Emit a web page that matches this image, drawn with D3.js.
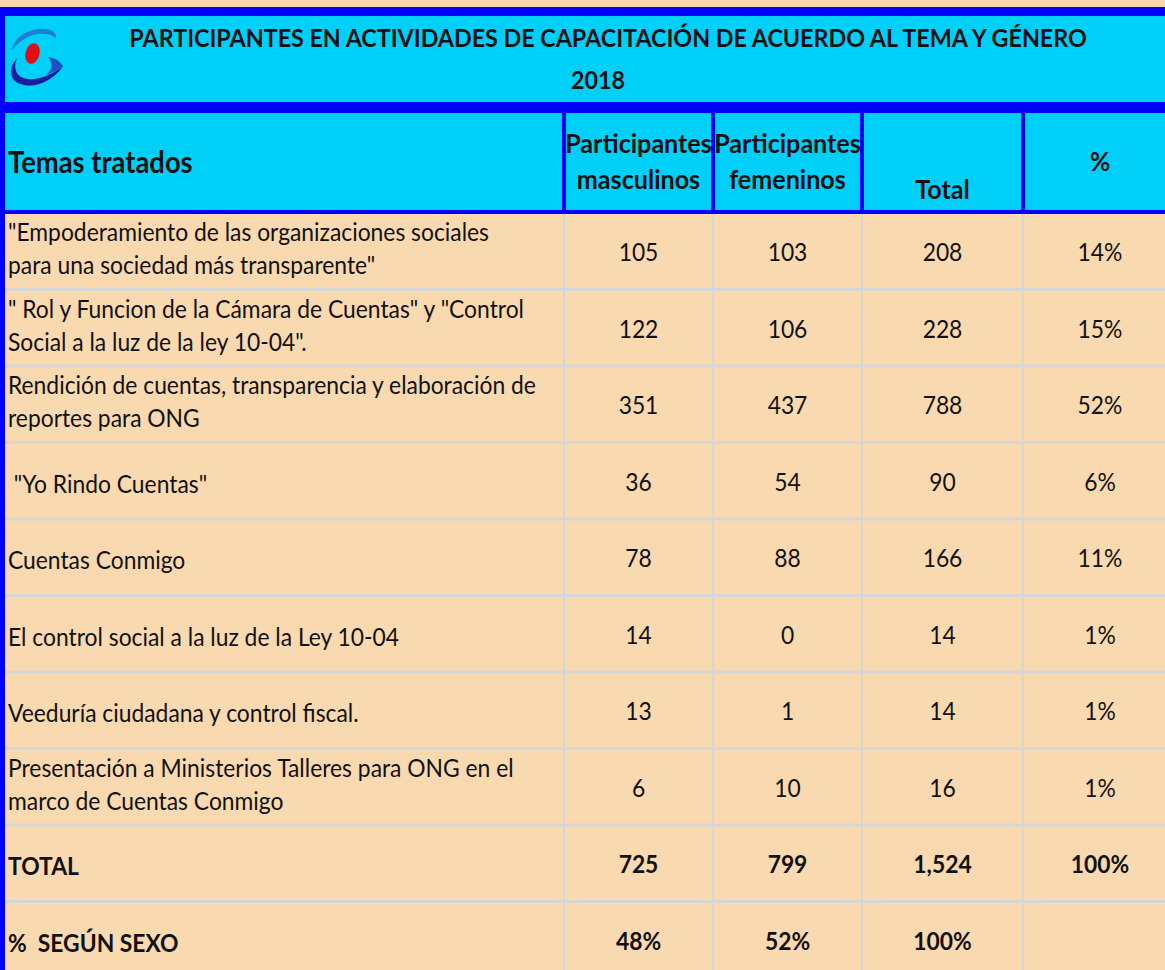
<!DOCTYPE html>
<html>
<head>
<meta charset="utf-8">
<script src="https://cdn.jsdelivr.net/npm/d3@7"></script>
<style>
    body { margin: 0; background: #F8D9B0; }
    svg { display: block; }
    text { font-family: Lato, "Open Sans", sans-serif; fill: #111; white-space: pre; }
</style>
</head>
<body>
<script>
// Table contents
var temas = [
    ['"Empoderamiento de las organizaciones sociales', 'para una sociedad más transparente"'],
    ['" Rol y Funcion de la Cámara de Cuentas" y "Control', 'Social a la luz de la ley 10-04".'],
    ['Rendición de cuentas, transparencia y elaboración de', 'reportes para ONG'],
    [' "Yo Rindo Cuentas"'],
    ['Cuentas Conmigo'],
    ['El control social a la luz de la Ley 10-04'],
    ['Veeduría ciudadana y control fiscal.'],
    ['Presentación a Ministerios Talleres para ONG en el', 'marco de Cuentas Conmigo']
];
var masculinos = [105, 122, 351, 36, 78, 14, 13, 6];
var femeninos = [103, 106, 437, 54, 88, 0, 1, 10];
var totales = [208, 228, 788, 90, 166, 14, 14, 16];
var porcentajes = ["14%", "15%", "52%", "6%", "11%", "1%", "1%", "1%"];
var filaTotal = ["TOTAL", "725", "799", "1,524", "100%"];
var filaSexo = ["%  SEGÚN SEXO", "48%", "52%", "100%", ""];
var encabezados = [["Temas tratados"], ["Participantes", "masculinos"], ["Participantes", "femeninos"], ["Total"], ["%"]];
var titulo = ["PARTICIPANTES EN ACTIVIDADES DE CAPACITACIÓN DE ACUERDO AL TEMA Y GÉNERO", "2018"];

function init() {
    var w = 1165, h = 970;
    var peach = "#F8D9B0", cyan = "#00D0F8", blue = "#0000FF", grid = "#D6D6D6";
    var colEdges = [5, 564, 713, 862, 1023, 1177];
    var bodyTop = 213, rowH = 76.5;

    var svg = d3.select("body").append("svg")
        .attr("width", w)
        .attr("height", h);

    svg.append("rect").attr("width", w).attr("height", h).attr("fill", peach);

    // rows: 8 topics + total + % by sex
    var rows = temas.map(function (t, i) {
        return [t, masculinos[i], femeninos[i], totales[i], porcentajes[i], false];
    });
    rows.push([[filaTotal[0]]].concat(filaTotal.slice(1), [true]));
    rows.push([[filaSexo[0]]].concat(filaSexo.slice(1), [true]));

    var yScale = d3.scaleBand()
        .domain(d3.range(rows.length))
        .range([bodyTop, bodyTop + rowH * rows.length]);

    var xScale = d3.scaleOrdinal()
        .domain(d3.range(5))
        .range(colEdges.slice(0, 5));
    function colW(j) { return colEdges[j + 1] - colEdges[j]; }
    function colMid(j) { return xScale(j) + colW(j) / 2; }

    // condense factor so the widest label fits like in the sheet (Calibri is narrow)
    var probe = svg.append("text").attr("font-size", 25);
    var widest = 0;
    temas.forEach(function (t) {
        t.forEach(function (s) {
            probe.text(s);
            widest = Math.max(widest, probe.node().getComputedTextLength());
        });
    });
    probe.remove();
    var sx = Math.min(1, 528 / widest);

    function put(g, str, x, y, size, bold, anchor) {
        g.append("text")
            .attr("transform", "translate(" + x + "," + y + ") scale(" + sx + ",1)")
            .attr("font-size", size)
            .attr("font-weight", bold ? "bold" : "normal")
            .attr("text-anchor", anchor || "start")
            .text(str);
    }

    // title block
    svg.append("rect").attr("x", 0).attr("y", 7).attr("width", w).attr("height", 107).attr("fill", blue);
    svg.append("rect").attr("x", 5).attr("y", 16).attr("width", w).attr("height", 86).attr("fill", cyan);

    // header block
    svg.append("rect").attr("x", 0).attr("y", 113).attr("width", w).attr("height", 101).attr("fill", blue);
    svg.append("rect").attr("x", 5).attr("y", 113).attr("width", w).attr("height", 97).attr("fill", cyan);

    // left border
    svg.append("rect").attr("x", 0).attr("y", 7).attr("width", 5).attr("height", h).attr("fill", blue);

    // logo
    var logo = svg.append("g");
    logo.append("path")
        .attr("d", "M12,50 C14,36 30,28 44,29 C52,29 57,33 56,38 C50,33 38,32 28,37 C20,41 15,46 12,50 Z")
        .attr("fill", "#1F7DD3");
    logo.append("path")
        .attr("d", "M17,58 C8,68 8,82 24,85 C38,88 56,78 63,66 C52,75 38,80 28,79 C16,78 13,68 17,58 Z")
        .attr("fill", "#1C1CA0");
    logo.append("path")
        .attr("d", "M48,57 C55,58 60,61 63,66 C58,70 52,73 46,75 C52,70 54,63 48,57 Z")
        .attr("fill", "#2050C0");
    logo.append("ellipse")
        .attr("cx", 32.5).attr("cy", 53.5).attr("rx", 7).attr("ry", 10.5)
        .attr("transform", "rotate(15,32.5,53.5)")
        .attr("fill", "#E0101A");

    put(svg, titulo[0], 608, 47, 25.5, true, "middle");
    put(svg, titulo[1], 598, 89, 25.5, true, "middle");

    // header separators
    svg.selectAll(".hsep")
        .data(colEdges.slice(1, 5))
        .enter()
        .append("rect")
        .attr("x", function (d) { return d - 2; })
        .attr("y", 113)
        .attr("width", 4)
        .attr("height", 100)
        .attr("fill", blue);

    // header texts
    var head = svg.append("g");
    put(head, encabezados[0][0], 8, 173, 30, true, "start");
    put(head, encabezados[1][0], colMid(1), 153, 27.5, true, "middle");
    put(head, encabezados[1][1], colMid(1), 189, 27.5, true, "middle");
    put(head, encabezados[2][0], colMid(2), 153, 27.5, true, "middle");
    put(head, encabezados[2][1], colMid(2), 189, 27.5, true, "middle");
    put(head, encabezados[3][0], colMid(3), 199, 27.5, true, "middle");
    put(head, encabezados[4][0], colMid(4), 171, 27.5, true, "middle");

    // body grid
    svg.selectAll(".hline")
        .data(d3.range(1, rows.length))
        .enter()
        .append("rect")
        .attr("x", 5)
        .attr("y", function (d) { return yScale(d) - 1.5; })
        .attr("width", w)
        .attr("height", 3)
        .attr("fill", grid);

    svg.selectAll(".vline")
        .data(colEdges.slice(1, 5))
        .enter()
        .append("rect")
        .attr("x", function (d) { return d - 1; })
        .attr("y", bodyTop + 1)
        .attr("width", 2)
        .attr("height", h - bodyTop)
        .attr("fill", grid);

    // body cells
    rows.forEach(function (r, i) {
        var top = yScale(i);
        var mid = top + yScale.bandwidth() / 2;
        var bold = r[5];
        var g = svg.append("g");
        var lines = r[0];
        if (lines.length === 2) {
            put(g, lines[0], 8, top + 28, 25, bold, "start");
            put(g, lines[1], 8, top + 61, 25, bold, "start");
        } else {
            put(g, lines[0], 8, mid + 12, 25, bold, "start");
        }
        for (var j = 1; j <= 4; j++) {
            put(g, String(r[j]), colMid(j), mid + 10, 25, bold, "middle");
        }
    });
}

window.onload = init;
</script>
</body>
</html>
